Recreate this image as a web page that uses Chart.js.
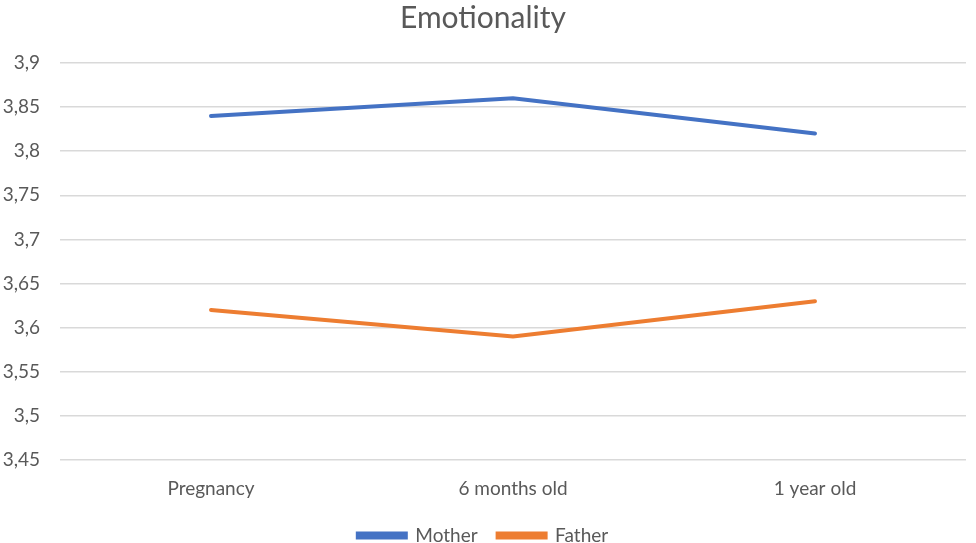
<!DOCTYPE html>
<html>
<head>
<meta charset="utf-8">
<script src="https://cdn.jsdelivr.net/npm/chart.js@4.4.1/dist/chart.umd.min.js"></script>
<style>
  html,body{margin:0;padding:0;background:#fff;}
  #wrap{width:976px;height:543px;position:relative;}
</style>
</head>
<body>
<div id="wrap"><canvas id="chart"></canvas></div>
<script>
const categories=["Pregnancy","6 months old","1 year old"];
const mother=[3.84,3.86,3.82];
const father=[3.62,3.59,3.63];
const yMin=3.45, yMax=3.9, yStep=0.05;

const FONT="Lato, 'Noto Sans', sans-serif";
const TXT="#595959";

new Chart(document.getElementById("chart"),{
  type:"line",
  data:{labels:categories,datasets:[
    {label:"Mother",data:mother,borderColor:"#4472C4",backgroundColor:"#4472C4",borderWidth:4,pointRadius:0,tension:0,borderCapStyle:"round"},
    {label:"Father",data:father,borderColor:"#ED7D31",backgroundColor:"#ED7D31",borderWidth:4,pointRadius:0,tension:0,borderCapStyle:"round"}
  ]},
  options:{
    responsive:true,maintainAspectRatio:false,animation:false,
    layout:{padding:{left:0,right:10,top:0,bottom:-12}},
    plugins:{
      title:{display:true,text:"Emotionality",color:TXT,font:{family:FONT,size:30,weight:"normal"},padding:{top:0,bottom:27}},
      legend:{position:"bottom",labels:{color:TXT,font:{family:FONT,size:19},boxWidth:48,boxHeight:4,padding:20}},
      tooltip:{enabled:false}
    },
    scales:{
      x:{offset:true,grid:{display:false},border:{display:false},
         afterFit:(s)=>{s.height=46;},
         ticks:{color:TXT,font:{family:FONT,size:19},padding:9}},
      y:{min:yMin,max:yMax,
         afterFit:(s)=>{s.width=60;},
         afterBuildTicks:(s)=>{const t=[];for(let v=yMin;v<=yMax+1e-9;v+=yStep)t.push({value:+v.toFixed(2)});s.ticks=t;},
         grid:{color:"#D9D9D9",lineWidth:1.5,drawTicks:false},border:{display:false},
         ticks:{color:TXT,font:{family:FONT,size:19},padding:20,
           callback:(v)=>String(+v.toFixed(2)).replace(".",",")}}
    }
  }
});
</script>
</body>
</html>
